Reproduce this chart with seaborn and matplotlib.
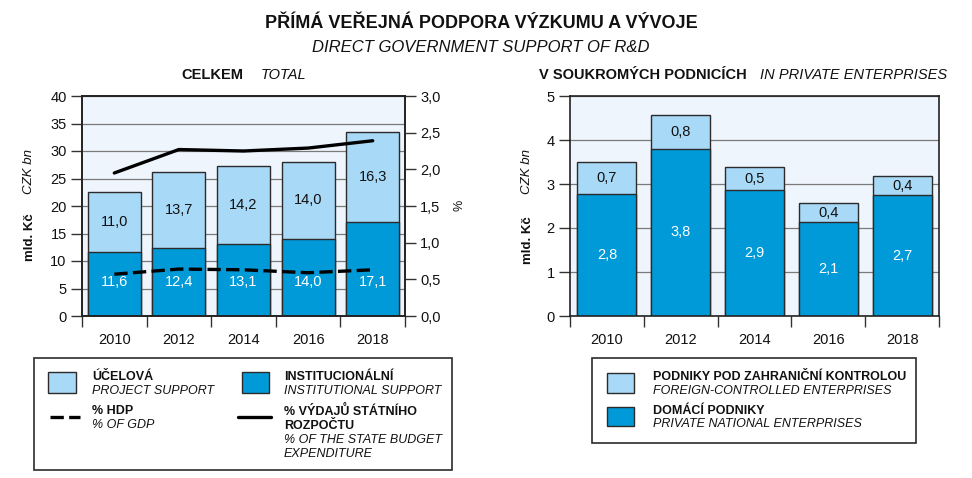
import numpy as np
import pandas as pd
import matplotlib
matplotlib.use("Agg")
import matplotlib.pyplot as plt
import seaborn as sns
from matplotlib.patches import Rectangle
from matplotlib.lines import Line2D

# ---- data ----
years = ["2010", "2012", "2014", "2016", "2018"]
institutional = [11.6, 12.4, 13.1, 14.0, 17.1]
project = [11.0, 13.7, 14.2, 14.0, 16.3]
pct_state_budget = [1.95, 2.27, 2.25, 2.29, 2.39]
pct_gdp = [0.57, 0.64, 0.63, 0.59, 0.63]
domestic = [2.78, 3.80, 2.86, 2.14, 2.74]
foreign = [0.72, 0.76, 0.52, 0.42, 0.44]
left_ticks = [0, 5, 10, 15, 20, 25, 30, 35, 40]
pct_ticks = [0.0, 0.5, 1.0, 1.5, 2.0, 2.5, 3.0]
ent_ticks = [0, 1, 2, 3, 4, 5]

LIGHT = "#a8d9f6"
DARK = "#009ad9"
BG = "#eef5fc"
EDGE = "#2b2b2b"
GRID = "#7a7a7a"

sns.set_theme(style="white")
plt.rcParams["font.family"] = ["Liberation Sans", "DejaVu Sans"]

W, H = 972, 478
fig = plt.figure(figsize=(9.72, 4.78), dpi=100)
fig.patch.set_facecolor("white")


def fx(px):
    return px / W


def fy(py):
    return 1 - py / H


def comma(v, nd=1):
    return f"{v:.{nd}f}".replace(".", ",")


def style_axes(ax, ticks, ylim):
    ax.set_facecolor(BG)
    ax.set_ylim(*ylim)
    ax.set_yticks(ticks)
    ax.set_yticklabels([str(t) for t in ticks])
    ax.yaxis.grid(True, color=GRID, lw=0.9)
    ax.set_axisbelow(True)
    ax.set_xlim(-0.5, 4.5)
    ax.set_xticks(np.arange(-0.5, 5, 1))
    ax.set_xticklabels([])
    ax.set_xticks(range(5), minor=True)
    ax.set_xticklabels(years, minor=True)
    ax.tick_params(axis="x", which="major", bottom=True, direction="out",
                   length=8, width=1, color="#333")
    ax.tick_params(axis="x", which="minor", bottom=True, length=0,
                   labelsize=10.5, pad=12, labelcolor="#111")
    ax.tick_params(axis="y", left=True, direction="out", length=8, width=1,
                   color="#333", labelsize=10.5, pad=3, labelcolor="#111")
    ax.set_xlabel("")
    ax.set_ylabel("")
    for s in ax.spines.values():
        s.set_visible(True)
        s.set_color("#222")
        s.set_linewidth(1.2)


# ---- left chart: total ----
ax1 = fig.add_axes([fx(82), fy(316), (405 - 82) / W, 220 / H])
df1 = pd.DataFrame({"year": years, "inst": institutional, "proj": project})
df1["total"] = df1["inst"] + df1["proj"]
sns.barplot(data=df1, x="year", y="total", color=LIGHT, saturation=1,
            edgecolor=EDGE, linewidth=1, width=0.82, ax=ax1)
sns.barplot(data=df1, x="year", y="inst", color=DARK, saturation=1,
            edgecolor=EDGE, linewidth=1, width=0.82, ax=ax1)
style_axes(ax1, left_ticks, (0, 40))
for i in range(5):
    ax1.text(i, 6.1, comma(institutional[i]), ha="center",
             va="center", color="white", fontsize=10.5)
    ax1.text(i, institutional[i] + project[i] / 2, comma(project[i]),
             ha="center", va="center", color="#111", fontsize=10.5)

ax2 = ax1.twinx()
sns.lineplot(x=np.arange(5), y=pct_state_budget, ax=ax2, color="black",
             lw=2.4)
sns.lineplot(x=np.arange(5), y=pct_gdp, ax=ax2, color="black", lw=2.4,
             linestyle=(0, (4, 1.6)))
ax2.set_ylim(0, 3)
ax2.set_yticks(pct_ticks)
ax2.set_yticklabels([comma(t) for t in pct_ticks])
ax2.tick_params(axis="y", right=True, direction="out", length=8, width=1,
                color="#333", labelsize=10.5, pad=3, labelcolor="#111")
ax2.set_ylabel("")
ax2.grid(False)
for s in ax2.spines.values():
    s.set_color("#222")
    s.set_linewidth(1.2)
ax2.set_xlim(-0.5, 4.5)

# ---- right chart: private enterprises ----
ax3 = fig.add_axes([fx(570), fy(316), (939 - 570) / W, 220 / H])
df3 = pd.DataFrame({"year": years, "dom": domestic, "for": foreign})
df3["total"] = df3["dom"] + df3["for"]
sns.barplot(data=df3, x="year", y="total", color=LIGHT, saturation=1,
            edgecolor=EDGE, linewidth=1, width=0.8, ax=ax3)
sns.barplot(data=df3, x="year", y="dom", color=DARK, saturation=1,
            edgecolor=EDGE, linewidth=1, width=0.8, ax=ax3)
style_axes(ax3, ent_ticks, (0, 5))
for i in range(5):
    ax3.text(i, domestic[i] / 2, comma(domestic[i]), ha="center",
             va="center", color="white", fontsize=10.5)
    ax3.text(i, domestic[i] + foreign[i] / 2, comma(foreign[i]),
             ha="center", va="center", color="#111", fontsize=10.5)

# ---- titles ----
fig.text(fx(481), fy(24), "PŘÍMÁ VEŘEJNÁ PODPORA VÝZKUMU A VÝVOJE",
         ha="center", va="center", fontsize=13, fontweight="bold", color="#111")
fig.text(fx(481), fy(47), "DIRECT GOVERNMENT SUPPORT OF R&D",
         ha="center", va="center", fontsize=12, fontstyle="italic", color="#111")
fig.text(fx(243), fy(75), "CELKEM", ha="right", va="center", fontsize=10.5,
         fontweight="bold", color="#111")
fig.text(fx(261), fy(75), "TOTAL", ha="left", va="center", fontsize=10.5,
         fontstyle="italic", color="#111")
fig.text(fx(747), fy(75), "V SOUKROMÝCH PODNICÍCH", ha="right", va="center",
         fontsize=10.5, fontweight="bold", color="#111")
fig.text(fx(760), fy(75), "IN PRIVATE ENTERPRISES", ha="left", va="center",
         fontsize=10.5, fontstyle="italic", color="#111")

# axis titles
for xpx, ymld, yczk in [(30, 237, 172), (528, 240, 172)]:
    fig.text(fx(xpx), fy(ymld), "mld. Kč", rotation=90, ha="center",
             va="center", fontsize=9.5, fontweight="bold", color="#111")
    fig.text(fx(xpx - 1), fy(yczk), "CZK bn", rotation=90, ha="center",
             va="center", fontsize=9.5, fontstyle="italic", color="#111")
fig.text(fx(459), fy(205), "%", rotation=90, ha="center", va="center",
         fontsize=9, color="#111")


# ---- legends ----
def box(x0, y0, x1, y1, fc, ec=EDGE, lw=1.2):
    fig.add_artist(Rectangle((fx(x0), fy(y1)), fx(x1) - fx(x0),
                             fy(y0) - fy(y1), transform=fig.transFigure,
                             facecolor=fc, edgecolor=ec, lw=lw))


def txt(x, y, s, bold=False):
    fig.text(fx(x), fy(y), s, ha="left", va="center", fontsize=9,
             fontweight="bold" if bold else "normal",
             fontstyle="normal" if bold else "italic", color="#111")


box(34, 358, 452, 470, "white")
box(48, 372, 76, 393, LIGHT, lw=1)
txt(92, 377, "ÚČELOVÁ", True)
txt(92, 391, "PROJECT SUPPORT")
box(242, 372, 269, 393, DARK, lw=1)
txt(284, 377, "INSTITUCIONÁLNÍ", True)
txt(284, 391, "INSTITUTIONAL SUPPORT")
fig.add_artist(Line2D([fx(50), fx(80)], [fy(417), fy(417)],
                      transform=fig.transFigure, color="black", lw=2.4,
                      linestyle=(0, (4, 1.6))))
txt(92, 411, "% HDP", True)
txt(92, 425, "% OF GDP")
fig.add_artist(Line2D([fx(238), fx(271)], [fy(417), fy(417)],
                      transform=fig.transFigure, color="black", lw=2.4))
txt(284, 411, "% VÝDAJŮ STÁTNÍHO", True)
txt(284, 426, "ROZPOČTU", True)
txt(284, 440, "% OF THE STATE BUDGET")
txt(284, 454, "EXPENDITURE")

box(592, 358, 916, 443, "white")
box(607, 373, 634, 393, LIGHT, lw=1)
txt(653, 377, "PODNIKY POD ZAHRANIČNÍ KONTROLOU", True)
txt(653, 391, "FOREIGN-CONTROLLED ENTERPRISES")
box(607, 407, 634, 426, DARK, lw=1)
txt(653, 411, "DOMÁCÍ PODNIKY", True)
txt(653, 424, "PRIVATE NATIONAL ENTERPRISES")

fig.savefig("out.png", dpi=100)
